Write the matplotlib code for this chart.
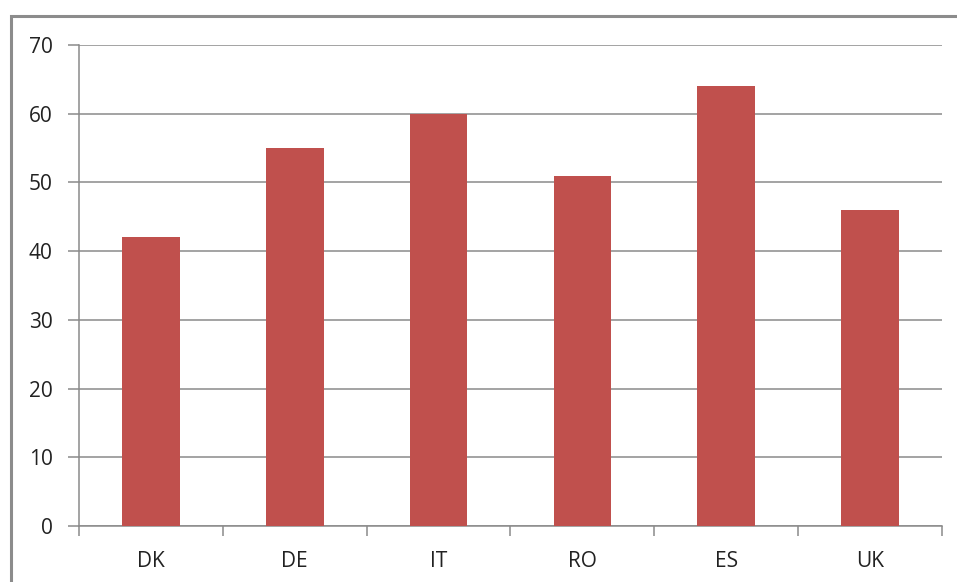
import matplotlib
matplotlib.use("Agg")
import matplotlib.pyplot as plt
from matplotlib.patches import Rectangle

categories = ["DK", "DE", "IT", "RO", "ES", "UK"]
values = [42, 55, 60, 51, 64, 46]
yticks = [0, 10, 20, 30, 40, 50, 60, 70]

plt.rcParams['font.family'] = ['Open Sans', 'DejaVu Sans']

W, H = 957, 582
fig = plt.figure(figsize=(W/100, H/100), dpi=100)
fig.patch.set_facecolor("white")

# outer border (extends beyond right/bottom edges)
fig.add_artist(Rectangle((10.5/W, -0.1), 1.2, 1 - 15.5/H + 0.1, transform=fig.transFigure,
                         fill=False, edgecolor="#8c8c8c", linewidth=2.2))

ax = fig.add_axes([79/W, 1 - 526/H, (942-79)/W, (526-45)/H])
x = list(range(len(categories)))
ax.bar(x, values, width=0.40, color="#C0504D", zorder=3)
ax.set_xlim(-0.5, len(categories) - 0.5)
ax.set_ylim(0, 70)
ax.set_yticks(yticks)
ax.set_yticklabels([str(v) for v in yticks])
ax.yaxis.grid(True, color="#8a8a8a", linewidth=1.1, zorder=0)
ax.set_xticks(x)
ax.set_xticklabels(categories)
ax.set_xticks([i - 0.5 for i in range(len(categories) + 1)], minor=True)
ax.tick_params(axis='x', which='major', length=0, pad=18, labelsize=15, colors="#222222")
ax.tick_params(axis='x', which='minor', length=7, width=1.1, color="#8a8a8a", direction='out')
ax.tick_params(axis='y', length=8, width=1.1, color="#8a8a8a", pad=11, labelsize=15, labelcolor="#222222")
for s in ["top", "right"]:
    ax.spines[s].set_visible(False)
for s in ["left", "bottom"]:
    ax.spines[s].set_color("#8a8a8a")
    ax.spines[s].set_linewidth(1.1)

fig.savefig("out.png", dpi=100, facecolor="white")
